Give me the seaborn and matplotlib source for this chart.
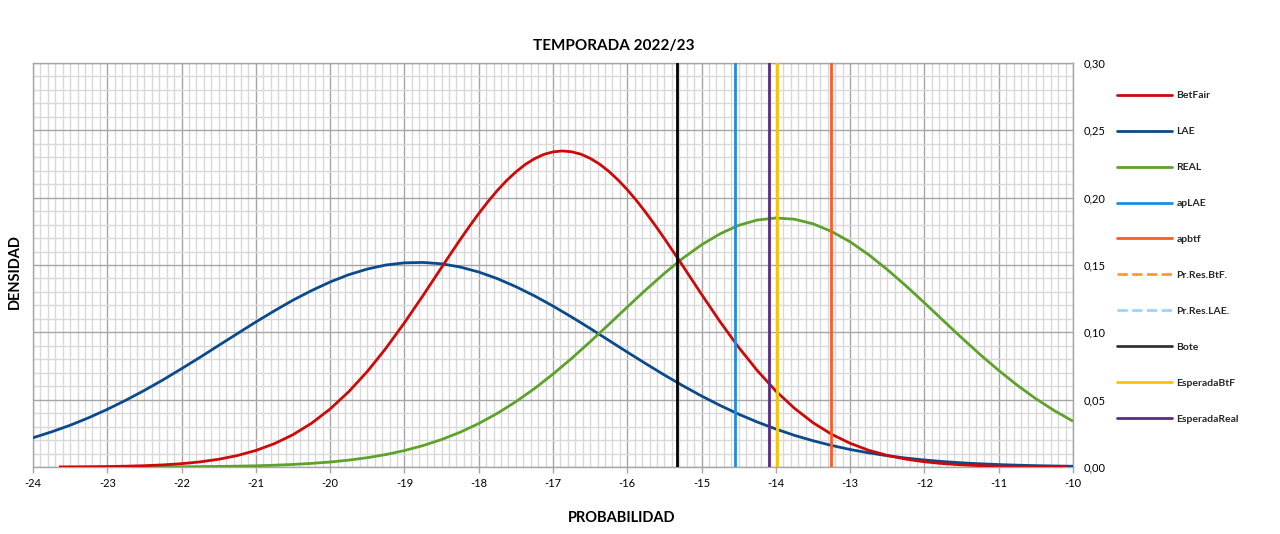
import numpy as np
import matplotlib
matplotlib.use("Agg")
import matplotlib.pyplot as plt
from matplotlib.lines import Line2D
from matplotlib.ticker import MultipleLocator, FuncFormatter
import seaborn as sns

# ---------------- data ----------------
betfair_x = [-23.65, -23.5, -23.25, -23.0, -22.75, -22.5, -22.25, -22.0, -21.75, -21.5,
             -21.25, -21.0, -20.75, -20.5, -20.25, -20.0, -19.75, -19.5, -19.25, -19.0,
             -18.75, -18.5, -18.375, -18.25, -18.125, -18.0, -17.875, -17.75, -17.625,
             -17.5, -17.375, -17.25, -17.125, -17.0, -16.875, -16.75, -16.625, -16.5,
             -16.375, -16.25, -16.125, -16.0, -15.875, -15.75, -15.625, -15.5, -15.375,
             -15.25, -15.0, -14.75, -14.5, -14.25, -14.0,
             -13.75, -13.5, -13.25, -13.0, -12.75, -12.5, -12.25, -12.0, -11.75, -11.5,
             -11.25, -11.0, -10.75, -10.5, -10.25, -10.07]
betfair_y = [0.00008, 0.00012, 0.00021, 0.00035, 0.00059, 0.00098, 0.00157, 0.00247, 0.00381, 0.00575,
             0.00849, 0.01227, 0.01735, 0.0240, 0.0325, 0.0431, 0.0559, 0.0709, 0.0881, 0.1071,
             0.1273, 0.1482, 0.1586, 0.1688, 0.1787, 0.1882, 0.1971, 0.2053, 0.2127,
             0.2191, 0.2246, 0.2289, 0.2321, 0.2340, 0.2347, 0.2341, 0.2323, 0.2292,
             0.2250, 0.2196, 0.2132, 0.2059, 0.1978, 0.1889, 0.1795, 0.1696, 0.1594,
             0.1491, 0.1282, 0.1078, 0.0888, 0.0716, 0.0564,
             0.0436, 0.0329, 0.0243, 0.0176, 0.0124, 0.00862, 0.00585, 0.00388, 0.00252, 0.00160,
             0.00099, 0.00060, 0.00036, 0.00021, 0.00012, 0.00008]

lae_x = [-24.0, -23.75, -23.5, -23.25, -23.0, -22.75, -22.5, -22.25, -22.0, -21.75,
         -21.5, -21.25, -21.0, -20.75, -20.5, -20.25, -20.0, -19.75, -19.5, -19.25,
         -19.0, -18.75, -18.5, -18.25, -18.0, -17.75, -17.5, -17.25, -17.0, -16.75,
         -16.5, -16.25, -16.0, -15.75, -15.5, -15.25, -15.0, -14.75, -14.5, -14.25,
         -14.0, -13.75, -13.5, -13.25, -13.0, -12.75, -12.5, -12.25, -12.0, -11.75,
         -11.5, -11.25, -11.0, -10.75, -10.5, -10.25, -10.0]
lae_y = [0.0217, 0.0261, 0.0310, 0.0366, 0.0428, 0.0496, 0.0569, 0.0647, 0.0730, 0.0815,
         0.0903, 0.0990, 0.1077, 0.1160, 0.1239, 0.1310, 0.1374, 0.1428, 0.1470, 0.1500,
         0.1516, 0.1519, 0.1509, 0.1485, 0.1448, 0.1399, 0.1339, 0.1271, 0.1195, 0.1114,
         0.1029, 0.0941, 0.0853, 0.0767, 0.0683, 0.0603, 0.0527, 0.0457, 0.0392, 0.0334,
         0.0282, 0.0235, 0.0195, 0.0160, 0.0130, 0.0105, 0.00838, 0.00663, 0.00520, 0.00404,
         0.00311, 0.00238, 0.00180, 0.00135, 0.00100, 0.00074, 0.00054]

real_x = [-22.6, -22.5, -22.25, -22.0, -21.75, -21.5, -21.25, -21.0, -20.75, -20.5,
          -20.25, -20.0, -19.75, -19.5, -19.25, -19.0, -18.75, -18.5, -18.25, -18.0,
          -17.75, -17.5, -17.25, -17.0, -16.75, -16.5, -16.25, -16.0, -15.75, -15.5,
          -15.25, -15.0, -14.75, -14.5, -14.25, -14.0, -13.75, -13.5, -13.25, -13.0,
          -12.75, -12.5, -12.25, -12.0, -11.75, -11.5, -11.25, -11.0, -10.75, -10.5,
          -10.25, -10.0]
real_y = [0.00006, 0.00007, 0.00012, 0.00018, 0.00028, 0.00042, 0.00062, 0.00091, 0.00132, 0.00189,
          0.00267, 0.00371, 0.00510, 0.00691, 0.00924, 0.0122, 0.0159, 0.0204, 0.0258, 0.0323,
          0.0398, 0.0485, 0.0582, 0.0690, 0.0806, 0.0930, 0.1058, 0.1188, 0.1316, 0.1438,
          0.1551, 0.1650, 0.1732, 0.1795, 0.1834, 0.1849, 0.1840, 0.1806, 0.1749, 0.1672,
          0.1576, 0.1466, 0.1346, 0.1219, 0.1089, 0.0960, 0.0835, 0.0717, 0.0607, 0.0507,
          0.0418, 0.0340]

# vertical reference lines
vline_names = ["apLAE", "apbtf", "Bote", "EsperadaBtF", "EsperadaReal"]
vline_x = [-14.55, -13.26, -15.33, -13.98, -14.09]

legend_labels = ["BetFair", "LAE", "REAL", "apLAE", "apbtf", "Pr.Res.BtF.",
                 "Pr.Res.LAE.", "Bote", "EsperadaBtF", "EsperadaReal"]

x_ticks = list(range(-24, -9))
y_ticks = [0.00, 0.05, 0.10, 0.15, 0.20, 0.25, 0.30]

title = "TEMPORADA 2022/23"
xlabel = "PROBABILIDAD"
ylabel = "DENSIDAD"

# ---------------- style ----------------
colors = {
    "BetFair": "#CC0A0A",
    "LAE": "#0B4A8C",
    "REAL": "#5EA22C",
    "apLAE": "#1C8EDF",
    "apbtf": "#FF5A24",
    "Pr.Res.BtF.": "#FF9A2E",
    "Pr.Res.LAE.": "#9CD3FF",
    "Bote": "#000000",
    "EsperadaBtF": "#FFC400",
    "EsperadaReal": "#5B2A86",
}

sns.set_theme(style="white")
plt.rcParams["font.family"] = ["Lato", "DejaVu Sans"]

fig = plt.figure(figsize=(12.8, 5.34), dpi=100)
ax = fig.add_axes([33 / 1280, 67 / 534, 1040 / 1280, 404 / 534])

lw = 2.0
line_kw = dict(linewidth=lw, sort=False, solid_joinstyle="round", solid_capstyle="butt")
sns.lineplot(x=lae_x, y=lae_y, ax=ax, color=colors["LAE"], zorder=3, **line_kw)
sns.lineplot(x=real_x, y=real_y, ax=ax, color=colors["REAL"], zorder=3, **line_kw)
sns.lineplot(x=betfair_x, y=betfair_y, ax=ax, color=colors["BetFair"], zorder=4, **line_kw)

for name, xv in zip(vline_names, vline_x):
    ax.axvline(xv, color=colors[name], linewidth=lw, zorder=5)

ax.set_xlim(-24, -10)
ax.set_ylim(0, 0.30)

# grid
ax.set_axisbelow(True)
ax.xaxis.set_major_locator(MultipleLocator(1))
ax.xaxis.set_minor_locator(MultipleLocator(0.1))
ax.yaxis.set_major_locator(MultipleLocator(0.05))
ax.yaxis.set_minor_locator(MultipleLocator(0.01))
ax.grid(which="major", color="#A6A6A6", linewidth=1.0)
ax.grid(which="minor", color="#D9D9D9", linewidth=1.0)

ax.set_xticks(x_ticks)
ax.set_xticklabels([str(v) for v in x_ticks])
ax.set_yticks(y_ticks)
ax.yaxis.tick_right()
ax.yaxis.set_major_formatter(FuncFormatter(lambda v, p: f"{v:.2f}".replace(".", ",")))
ax.tick_params(axis="x", which="major", direction="out", length=4, width=1,
               color="#A6A6A6", labelsize=8, pad=4, labelcolor="#000000", bottom=True)
ax.tick_params(axis="y", which="major", direction="out", length=0, width=1,
               color="#A6A6A6", labelsize=8, pad=8, labelcolor="#000000", right=True, left=False)
ax.tick_params(which="minor", length=0)

for s in ax.spines.values():
    s.set_visible(True)
    s.set_color("#A6A6A6")
    s.set_linewidth(1.0)

ax.set_xlabel("")
ax.set_ylabel("")

fig.text(614 / 1280, 1 - 46 / 534, title, ha="center", va="center",
         fontsize=11, fontweight="bold", color="#000000")
fig.text(622 / 1280, 1 - 518 / 534, xlabel, ha="center", va="center",
         fontsize=10.5, fontweight="bold", color="#000000")
fig.text(15 / 1280, 1 - 272 / 534, ylabel, ha="center", va="center", rotation=90,
         fontsize=10.5, fontweight="bold", color="#000000")

# legend
handles = []
for lab in legend_labels:
    ls = "--" if lab.startswith("Pr.Res") else "-"
    c = colors[lab]
    if lab == "Bote":
        c = "#333333"
    handles.append(Line2D([], [], color=c, linewidth=2.0, linestyle=ls))
fig.legend(handles, legend_labels, loc="upper left",
           bbox_to_anchor=(1117 / 1280, 1 - 91 / 534),
           frameon=False, handlelength=5.3, handletextpad=0.4,
           labelspacing=2.56, borderpad=0, borderaxespad=0,
           prop={"weight": "bold", "size": 7.5})

fig.savefig("out.png", dpi=100)
